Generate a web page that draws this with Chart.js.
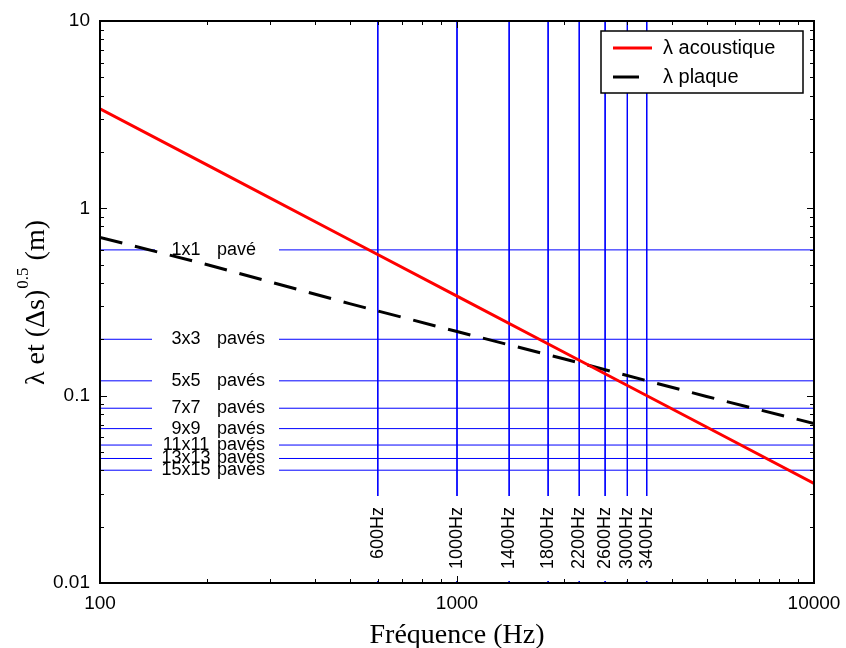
<!DOCTYPE html>
<html><head><meta charset="utf-8">
<script src="https://cdn.jsdelivr.net/npm/chart.js@4"></script>
<style>html,body{margin:0;padding:0;background:#fff}canvas{display:block}</style>
</head><body>
<canvas id="c" width="846" height="648"></canvas>
<script>
// ---- data ----
const frequencies = [100, 200, 500, 1000, 2000, 5000, 10000];
const lambdaAcoustique = [3.4, 1.7, 0.68, 0.34, 0.17, 0.068, 0.034];
const lambdaPlaque = [0.70, 0.50, 0.31, 0.22, 0.157, 0.099, 0.071];
const seriesLabels = ['λ acoustique', 'λ plaque'];

const paveSizes = ['1x1', '3x3', '5x5', '7x7', '9x9', '11x11', '13x13', '15x15'];
const paveWords = ['pavé', 'pavés', 'pavés', 'pavés', 'pavés', 'pavés', 'pavés', 'pavés'];
const paveLevels = [0.6, 0.2, 0.12, 0.0857, 0.0667, 0.0545, 0.0462, 0.04];

const freqMarks = [600, 1000, 1400, 1800, 2200, 2600, 3000, 3400];
const freqMarkLabels = ['600Hz', '1000Hz', '1400Hz', '1800Hz', '2200Hz', '2600Hz', '3000Hz', '3400Hz'];

const xTickValues = [100, 1000, 10000];
const yTickValues = [0.01, 0.1, 1, 10];
const xRange = [100, 10000];
const yRange = [0.01, 10];

const xTitle = 'Fréquence (Hz)';
const yTitleParts = ['λ et (Δs)', '0.5', ' (m)'];

// ---- styles ----
const SANS = '"Liberation Sans", Arial, sans-serif';
const SERIF = '"Liberation Serif", "Times New Roman", serif';
const BLUE = '#0000ff';

const datasets = [
  { label: seriesLabels[0], isSeries: true, order: 0,
    data: frequencies.map((f, i) => ({ x: f, y: lambdaAcoustique[i] })),
    borderColor: '#ff0000', borderWidth: 3, pointRadius: 0, tension: 0 },
  { label: seriesLabels[1], isSeries: true, order: 0,
    data: frequencies.map((f, i) => ({ x: f, y: lambdaPlaque[i] })),
    borderColor: '#000000', borderWidth: 3, borderDash: [23, 13], pointRadius: 0, tension: 0 }
];
paveLevels.forEach(v => datasets.push({
  label: 'h', order: 1, data: [{ x: xRange[0], y: v }, { x: xRange[1], y: v }],
  borderColor: BLUE, borderWidth: 1, pointRadius: 0
}));
freqMarks.forEach(f => datasets.push({
  label: 'v', order: 1, data: [{ x: f, y: yRange[1] }, { x: f, y: yRange[0] }],
  borderColor: BLUE, borderWidth: 1, pointRadius: 0
}));

const decor = {
  id: 'decor',
  beforeDatasetsDraw(chart) { chart.$labelsDone = false; },
  beforeDatasetDraw(chart, args) {
    const ds = chart.data.datasets[args.index];
    if (chart.$labelsDone || !ds.isSeries) return;
    chart.$labelsDone = true;
    const { ctx, chartArea: a, scales: { x, y } } = chart;
    ctx.save();
    ctx.fillStyle = '#fff';
    paveLevels.forEach((v, i) => {
      const py = y.getPixelForValue(v);
      const x0 = a.left + (i === 0 ? 55 : 52);
      ctx.fillRect(x0, py - 2, a.left + 179 - x0, 4);
    });
    ctx.fillRect(a.left + 1.5, a.bottom - 87, a.right - a.left - 3, 85);
    ctx.fillStyle = '#000';
    ctx.font = '18px ' + SANS;
    ctx.textBaseline = 'middle';
    paveLevels.forEach((v, i) => {
      const py = y.getPixelForValue(v);
      ctx.textAlign = 'center';
      ctx.fillText(paveSizes[i], a.left + 86, py);
      ctx.textAlign = 'left';
      ctx.fillText(paveWords[i], a.left + 117, py);
    });
    freqMarks.forEach((f, i) => {
      const px = x.getPixelForValue(f);
      ctx.save();
      ctx.translate(px, a.bottom - 76);
      ctx.rotate(-Math.PI / 2);
      ctx.textAlign = 'right';
      ctx.fillText(freqMarkLabels[i], 0, 0);
      ctx.restore();
    });
    ctx.restore();
  },
  afterDraw(chart) {
    const { ctx, chartArea: a, scales: { x, y } } = chart;
    ctx.save();
    // frame
    ctx.strokeStyle = '#000';
    ctx.lineWidth = 2;
    ctx.strokeRect(a.left, a.top, a.right - a.left, a.bottom - a.top);
    // inward ticks
    ctx.lineWidth = 1;
    ctx.beginPath();
    for (let e = -2; e <= 0; e++) {
      for (let m = 1; m <= 9; m++) {
        const v = m * Math.pow(10, e);
        const py = Math.round(y.getPixelForValue(v)) + 0.5;
        const len = m === 1 ? 7 : 4;
        if (m === 1 && e === -2) continue;
        ctx.moveTo(a.left, py); ctx.lineTo(a.left + len, py);
        ctx.moveTo(a.right, py); ctx.lineTo(a.right - len, py);
      }
    }
    for (let e = 2; e <= 3; e++) {
      for (let m = 1; m <= 9; m++) {
        if (m === 1 && e === 2) continue;
        const v = m * Math.pow(10, e);
        const px = Math.round(x.getPixelForValue(v)) + 0.5;
        const len = m === 1 ? 7 : 4;
        ctx.moveTo(px, a.bottom); ctx.lineTo(px, a.bottom - len);
        ctx.moveTo(px, a.top); ctx.lineTo(px, a.top + len);
      }
    }
    ctx.stroke();
    // legend
    const lx = a.right - 213, ly = a.top + 10, lw = 202, lh = 62;
    ctx.fillStyle = '#fff';
    ctx.fillRect(lx, ly, lw, lh);
    ctx.lineWidth = 1.5;
    ctx.strokeStyle = '#000';
    ctx.strokeRect(lx, ly, lw, lh);
    const rows = [ly + 17, ly + 46];
    ctx.lineWidth = 3;
    ctx.strokeStyle = datasets[0].borderColor;
    ctx.beginPath(); ctx.moveTo(lx + 12, rows[0]); ctx.lineTo(lx + 51, rows[0]); ctx.stroke();
    ctx.strokeStyle = datasets[1].borderColor;
    ctx.beginPath(); ctx.moveTo(lx + 12, rows[1]); ctx.lineTo(lx + 38, rows[1]); ctx.stroke();
    ctx.fillStyle = '#000';
    ctx.font = '20px ' + SANS;
    ctx.textAlign = 'left';
    ctx.textBaseline = 'middle';
    ctx.fillText(seriesLabels[0], lx + 62, rows[0]);
    ctx.fillText(seriesLabels[1], lx + 62, rows[1]);
    // x title
    ctx.font = '28px ' + SERIF;
    ctx.textAlign = 'center';
    ctx.textBaseline = 'alphabetic';
    ctx.fillText(xTitle, (a.left + a.right) / 2, 643);
    // y title with superscript
    ctx.save();
    ctx.translate(44, (a.top + a.bottom) / 2 + 1);
    ctx.rotate(-Math.PI / 2);
    ctx.textAlign = 'left';
    ctx.font = '28px ' + SERIF;
    const w1 = ctx.measureText(yTitleParts[0]).width;
    const w3 = ctx.measureText(yTitleParts[2]).width;
    ctx.font = '17px ' + SERIF;
    const w2 = ctx.measureText(yTitleParts[1]).width;
    let cx = -(w1 + w2 + w3) / 2;
    ctx.font = '28px ' + SERIF;
    ctx.fillText(yTitleParts[0], cx, 0); cx += w1 + 1;
    ctx.font = '17px ' + SERIF;
    ctx.fillText(yTitleParts[1], cx, -16); cx += w2;
    ctx.font = '28px ' + SERIF;
    ctx.fillText(yTitleParts[2], cx, 0);
    ctx.restore();
    ctx.restore();
  }
};

new Chart(document.getElementById('c'), {
  type: 'line',
  data: { datasets },
  options: {
    responsive: false,
    animation: false,
    events: [],
    layout: { autoPadding: false, padding: { top: 21, right: 32, left: 0, bottom: 0 } },
    plugins: { legend: { display: false }, tooltip: { enabled: false } },
    scales: {
      x: {
        type: 'logarithmic', min: xRange[0], max: xRange[1],
        afterBuildTicks: s => { s.ticks = xTickValues.map(v => ({ value: v })); },
        afterFit: s => { s.height = 65; s.paddingLeft = 0; s.paddingRight = 0; },
        grid: { display: false, drawTicks: false },
        border: { display: false },
        ticks: { autoSkip: false, maxRotation: 0, padding: 9, color: '#000',
          font: { family: SANS, size: 19 }, callback: v => String(v) }
      },
      y: {
        type: 'logarithmic', min: yRange[0], max: yRange[1],
        afterBuildTicks: s => { s.ticks = yTickValues.map(v => ({ value: v })); },
        afterFit: s => { s.width = 100; s.paddingTop = 0; s.paddingBottom = 0; },
        grid: { display: false, drawTicks: false },
        border: { display: false },
        ticks: { autoSkip: false, padding: 10, color: '#000',
          font: { family: SANS, size: 19 }, callback: v => String(v) }
      }
    }
  },
  plugins: [decor]
});
</script>
</body></html>
